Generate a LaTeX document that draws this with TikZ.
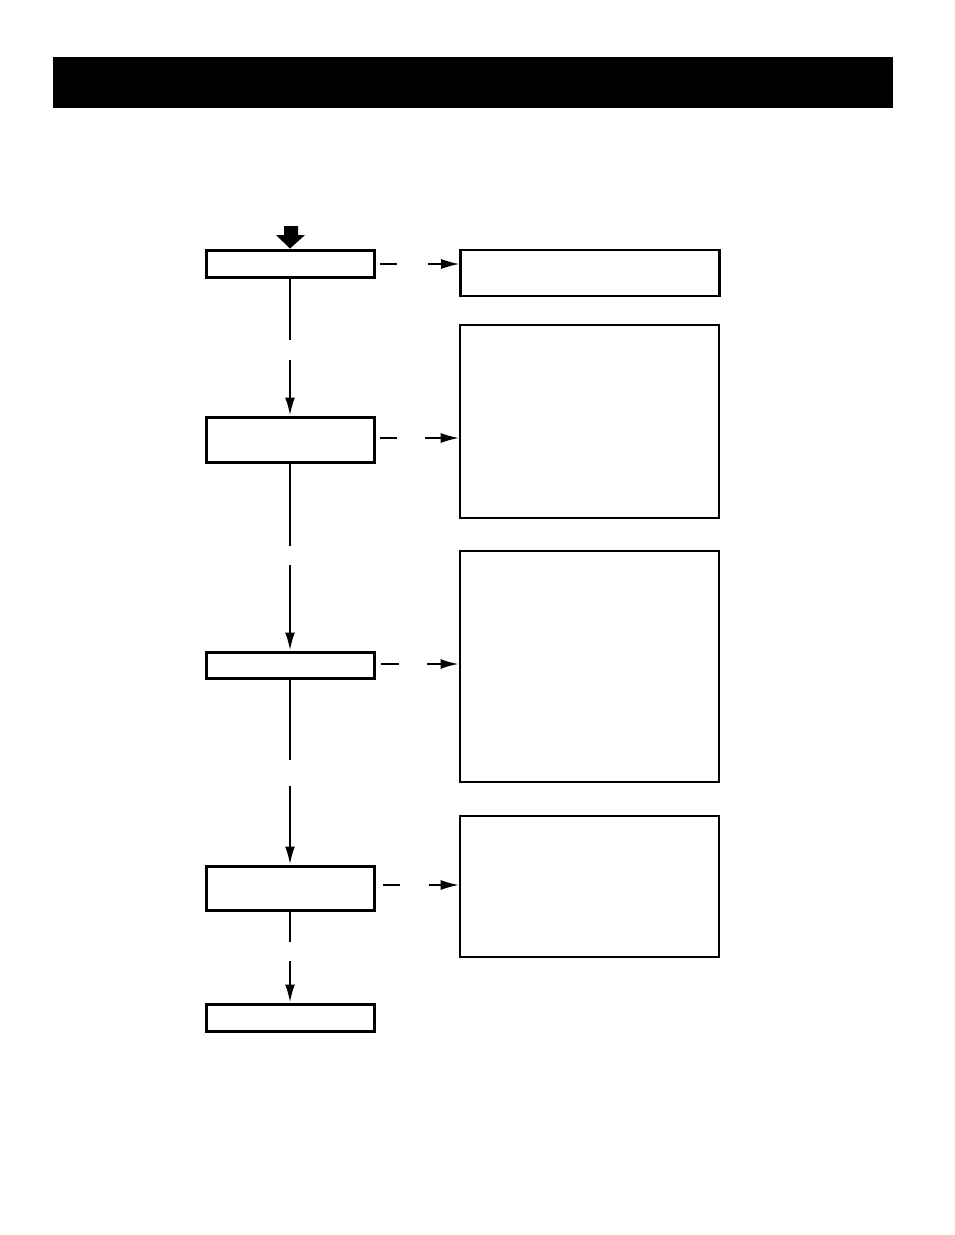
\documentclass[tikz,border=0pt]{standalone}
\usetikzlibrary{arrows.meta}

\tikzset{
  stepbox/.style={draw,line width=3pt,inner sep=0pt,minimum width=168pt},
  notebox/.style={draw,line width=2.6pt,inner sep=0pt,minimum width=259pt},
  conn/.style={line width=2.2pt},
  connarrow/.style={line width=2.2pt,-{Latex[length=18pt,width=10pt]}},
}

\begin{document}
\begin{tikzpicture}[x=1pt,y=-1pt]%
        \useasboundingbox (0,0) rectangle (954,1235);
        \fill (53,57) rectangle (893,108);
        % left column
        \node[stepbox,minimum height=27pt] (start) at (290,263.5) {};
        \node[stepbox,minimum height=45pt] (check) at (290,439.5) {};
        \node[stepbox,minimum height=26pt] (test) at (290,665) {};
        \node[stepbox,minimum height=44pt] (adjust) at (290,888) {};
        \node[stepbox,minimum height=27pt] (finish) at (290,1017.5) {};
        % right column
        \node[notebox,minimum height=46pt] (note1) at (590,273) {};
        \node[notebox,minimum height=193pt] (note2) at (589.5,421.5) {};
        \node[notebox,minimum height=231pt] (note3) at (589.5,666.5) {};
        \node[notebox,minimum height=141pt] (note4) at (589.5,886.5) {};
        % entry arrow
        \fill (284,226) -- (298,226) -- (298,235) -- (305,235) -- (start.north)
              -- (276,235) -- (284,235) -- cycle;
        % vertical links
        \coordinate (v1a) at (290,340); \coordinate (v1b) at (290,360);
        \coordinate (v2a) at (290,546); \coordinate (v2b) at (290,565);
        \coordinate (v3a) at (290,760); \coordinate (v3b) at (290,786);
        \coordinate (v4a) at (290,942); \coordinate (v4b) at (290,961);
        \draw[conn] (start) -- (v1a);
        \draw[connarrow] (v1b) -- (check);
        \draw[conn] (check) -- (v2a);
        \draw[connarrow] (v2b) -- (test);
        \draw[conn] (test) -- (v3a);
        \draw[connarrow] (v3b) -- (adjust);
        \draw[conn] (adjust) -- (v4a);
        \draw[connarrow] (v4b) -- (finish);
        % side links
        \coordinate (h1a) at (380,264); \coordinate (h1b) at (397,264); \coordinate (h1c) at (428,264);
        \coordinate (h2a) at (380,438); \coordinate (h2b) at (397,438); \coordinate (h2c) at (425,438);
        \coordinate (h3a) at (381,664); \coordinate (h3b) at (399,664); \coordinate (h3c) at (427,664);
        \coordinate (h4a) at (383,885); \coordinate (h4b) at (400,885); \coordinate (h4c) at (429,885);
        \draw[conn,line width=1.4pt] (h1a) -- (h1b);
        \draw[connarrow,line width=1.4pt] (h1c) -- (h1c -| note1.west);
        \draw[conn,line width=1.4pt] (h2a) -- (h2b);
        \draw[connarrow,line width=1.4pt] (h2c) -- (h2c -| note2.west);
        \draw[conn] (h3a) -- (h3b);
        \draw[connarrow] (h3c) -- (h3c -| note3.west);
        \draw[conn,line width=1.4pt] (h4a) -- (h4b);
        \draw[connarrow,line width=1.4pt] (h4c) -- (h4c -| note4.west);
    \end{tikzpicture}
\end{document}
